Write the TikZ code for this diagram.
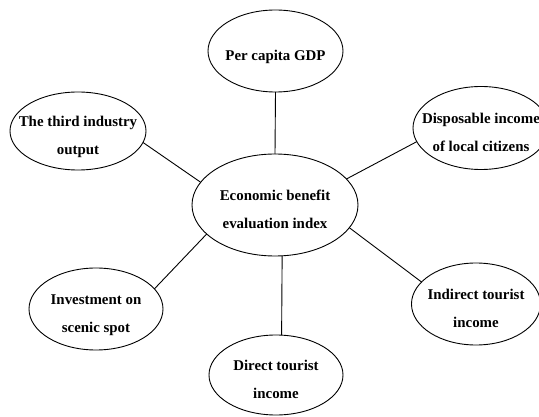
\documentclass[tikz,border=0pt]{standalone}
\usepackage{fontspec}
\setmainfont{Liberation Serif}
\usetikzlibrary{shapes.geometric}
% zero-size, slightly lowered text block so each ellipse keeps its own size
\newcommand\bubtext[1]{\raisebox{-7.5pt}[0pt][0pt]{\makebox[0pt]{\begin{tabular}{@{}c@{}}#1\end{tabular}}}}
\begin{document}
\begin{tikzpicture}[x=1pt,y=-1pt,
  bubble/.style={draw, ellipse, line width=0.9pt, inner sep=0pt, outer sep=0pt,
    font=\fontsize{14.9}{27.5}\selectfont\bfseries},
  link/.style={line width=0.9pt}]
\useasboundingbox (0,0) rectangle (539,417);
\clip (0,0) rectangle (539,417);

% central index
\node[bubble, minimum width=166pt, minimum height=102pt] (hub) at (275,205)
  {\bubtext{Economic benefit\\evaluation index}};

% surrounding indicators
\node[bubble, minimum width=135pt, minimum height=82pt] (gdp) at (275.5,51)
  {\bubtext{Per capita GDP}};
\node[bubble, minimum width=136pt, minimum height=78pt] (third) at (78,131)
  {\bubtext{The third industry\\output}};
\node[bubble, minimum width=136pt, minimum height=83pt] (disp) at (481,128)
  {\bubtext{Disposable income\\of local citizens}};
\node[bubble, minimum width=134pt, minimum height=82pt] (invest) at (96,309)
  {\bubtext{Investment on\\scenic spot}};
\node[bubble, minimum width=129pt, minimum height=82pt] (indirect) at (476,304)
  {\bubtext{Indirect tourist\\income}};
\node[bubble, minimum width=134pt, minimum height=80pt] (direct) at (276,375)
  {\bubtext{Direct tourist\\income}};

% spokes
\draw[link] (hub.north) -- (gdp.south);
\draw[link] (hub.163.8) -- (third.-10.5);
\draw[link] (hub.20.2) -- (disp.-168.7);
\draw[link] (hub.-157.1) -- (invest.19);
\draw[link] (hub.-17.9) -- (indirect.158.6);
\draw[link] (hub.-82) -- (direct.82);
\end{tikzpicture}
\end{document}
